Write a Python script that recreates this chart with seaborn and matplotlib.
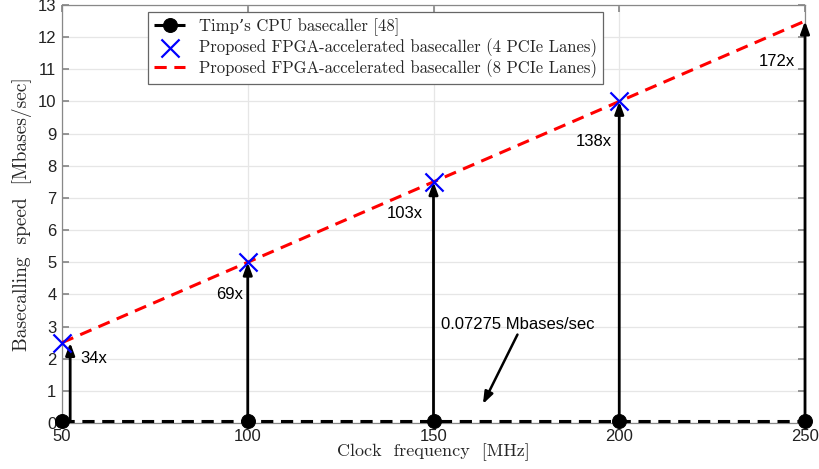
import matplotlib
matplotlib.use("Agg")
import matplotlib.pyplot as plt
import seaborn as sns
import pandas as pd

# ---- data ----
freq = [50, 100, 150, 200, 250]
cpu_speed = [0.07275, 0.07275, 0.07275, 0.07275, 0.07275]
fpga4_freq = [50, 100, 150, 200]
fpga4_speed = [2.5, 5.0, 7.5, 10.0]
fpga8_speed = [2.5, 5.0, 7.5, 10.0, 12.5]
speedups = ["34x", "69x", "103x", "138x", "172x"]
x_ticks = [50, 100, 150, 200, 250]
y_ticks = list(range(0, 14))
legend_labels = ["Timp\u2019s CPU basecaller [48]",
                 "Proposed FPGA-accelerated basecaller (4 PCIe Lanes)",
                 "Proposed FPGA-accelerated basecaller (8 PCIe Lanes)"]
cpu_note = "0.07275 Mbases/sec"

# ---- layout (label placement relative to arrow tops) ----
label_layout = [(4.8, -0.5, "left"), (-1.3, -1.0, "right"), (-2.8, -1.0, "right"),
                (-2.0, -1.24, "right"), (-2.7, -1.26, "right")]

sns.set_theme(style="whitegrid")
plt.rcParams['font.family'] = ['Liberation Sans', 'DejaVu Sans']
serif = ['cmr10', 'DejaVu Serif']

fig = plt.figure(figsize=(8.19, 4.69), dpi=100)
ax = fig.add_axes([62/819, 1 - 423/469, 743/819, 418/469])

df_cpu = pd.DataFrame({"f": freq, "s": cpu_speed})
df4 = pd.DataFrame({"f": fpga4_freq, "s": fpga4_speed})
df8 = pd.DataFrame({"f": freq, "s": fpga8_speed})

sns.lineplot(data=df_cpu, x="f", y="s", ax=ax, color="black", linestyle=(0, (4, 2.5)),
             linewidth=2.2, marker="o", markersize=10, markeredgecolor="black",
             label=legend_labels[0], zorder=4, clip_on=False)
sns.scatterplot(data=df4, x="f", y="s", ax=ax, color="blue", marker="x", s=170,
                linewidth=1.6, label=legend_labels[1], zorder=6, clip_on=False)
sns.lineplot(data=df8, x="f", y="s", ax=ax, color="red", linestyle=(0, (4, 2.5)),
             linewidth=2.2, label=legend_labels[2], zorder=5)

for i, (f, top, lab) in enumerate(zip(freq, fpga8_speed, speedups)):
    xa = f + (2.2 if i == 0 else 0)
    ax.annotate("", xy=(xa, top), xytext=(xa, cpu_speed[i]),
                arrowprops=dict(arrowstyle="-|>,head_length=0.6,head_width=0.22",
                                color="black", lw=2, shrinkA=0, shrinkB=0),
                zorder=3, annotation_clip=False)
    dx, dy, ha = label_layout[i]
    ax.text(f + dx, top + dy, lab, ha=ha, va="center", fontsize=12, color="black")

ax.text(172.6, 3.07, cpu_note, ha="center", va="center", fontsize=12, color="black")
ax.annotate("", xy=(163.3, 0.59), xytext=(172.6, 2.75),
            arrowprops=dict(arrowstyle="-|>,head_length=0.6,head_width=0.22",
                            color="black", lw=1.8, shrinkA=0, shrinkB=0))

ax.set_xlim(50, 250)
ax.set_ylim(0, 13)
ax.set_xticks(x_ticks)
ax.set_yticks(y_ticks)
ax.tick_params(axis="both", labelsize=12, direction="in", length=5, color="#888888",
               top=True, right=True, bottom=True, left=True, pad=4, labelcolor="#222222")
ax.grid(True, color="#e6e6e6", linewidth=0.9)
for sp in ax.spines.values():
    sp.set_color("#888888")
    sp.set_linewidth(0.9)
ax.set_facecolor("white")

ax.set_xlabel("Clock  frequency  [MHz]", family=serif, fontsize=13, labelpad=0)
ax.set_ylabel("Basecalling  speed  [Mbases/sec]", family=serif, fontsize=14, labelpad=4)

leg = ax.legend(loc="upper left", bbox_to_anchor=(0.1157, 0.983), borderaxespad=0,
                prop={"family": serif, "size": 12}, frameon=True, fancybox=False,
                edgecolor="#666666", framealpha=1, handlelength=1.9, handletextpad=0.8,
                borderpad=0.35, labelspacing=0.15)
leg.get_frame().set_linewidth(0.9)

fig.savefig("out.png", dpi=100)
